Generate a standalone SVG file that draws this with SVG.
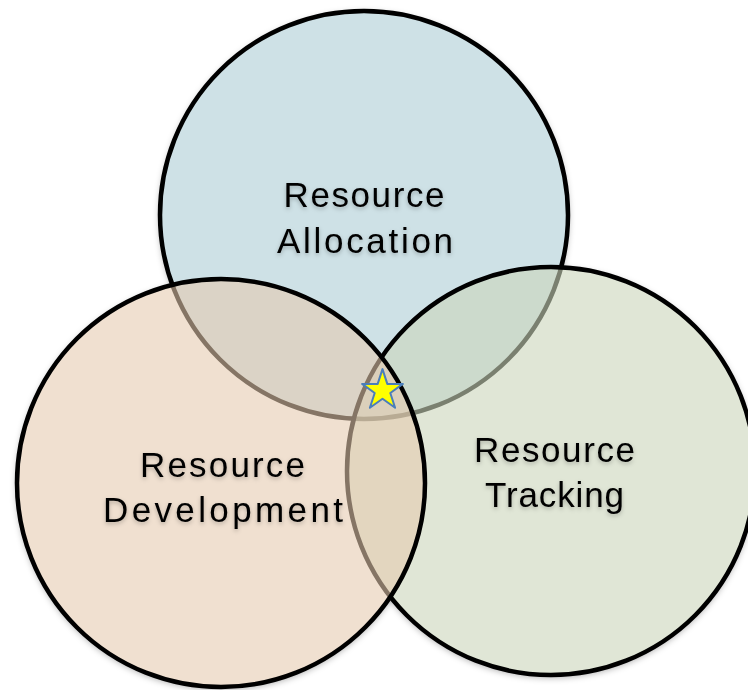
<svg xmlns="http://www.w3.org/2000/svg" width="748" height="690" viewBox="0 0 748 690">
  <defs>
    <filter id="blur" x="-10%" y="-10%" width="120%" height="125%">
      <feGaussianBlur stdDeviation="3"/>
    </filter>
    <filter id="tshadow" x="-10%" y="-20%" width="120%" height="150%">
      <feDropShadow dx="0" dy="2" stdDeviation="2" flood-color="#000" flood-opacity="0.25"/>
    </filter>
    <mask id="outside">
      <rect width="748" height="690" fill="#fff"/>
      <circle cx="364" cy="215" r="204" fill="#000"/>
      <circle cx="551" cy="471" r="204" fill="#000"/>
      <circle cx="221" cy="483" r="204" fill="#000"/>
    </mask>
  </defs>
  <style>
    .ring { stroke: #000; stroke-width: 4.5; }
    .shade { fill: #000; fill-opacity: 0.3; }
    .label { font-family: "Liberation Sans", Arial, sans-serif; font-size: 35px; fill: #000; text-anchor: middle; }
  </style>
  <rect width="748" height="690" fill="#fff"/>
  <g id="shadows" mask="url(#outside)">
    <g filter="url(#blur)">
      <circle class="shade" cx="364" cy="217" r="205"/>
      <circle class="shade" cx="551" cy="473" r="205"/>
      <circle class="shade" cx="221" cy="485" r="205"/>
    </g>
  </g>
  <g id="node-allocation">
    <circle class="ring" cx="364" cy="215" r="204" fill="#CEE1E6"/>
    <g filter="url(#tshadow)">
      <text class="label" x="364" y="207" textLength="161" lengthAdjust="spacing">Resource</text>
      <text class="label" x="365" y="253" textLength="176" lengthAdjust="spacing">Allocation</text>
    </g>
  </g>
  <g id="node-tracking">
    <circle class="ring" cx="551" cy="471" r="204" fill="#CBD5BB" fill-opacity="0.6"/>
    <g filter="url(#tshadow)">
      <text class="label" x="554.5" y="462" textLength="161" lengthAdjust="spacing">Resource</text>
      <text class="label" x="554.5" y="507" textLength="139" lengthAdjust="spacing">Tracking</text>
    </g>
  </g>
  <g id="node-development">
    <circle class="ring" cx="221" cy="483" r="204" fill="#E5CAAE" fill-opacity="0.58"/>
    <g filter="url(#tshadow)">
      <text class="label" x="222.5" y="477" textLength="165" lengthAdjust="spacing">Resource</text>
      <text class="label" x="223" y="522" textLength="240" lengthAdjust="spacing">Development</text>
    </g>
  </g>
  <g id="node-star">
    <polygon points="382.5,369.1 387.3,383.9 402.9,383.9 390.3,393 395.1,407.8 382.5,398.7 369.9,407.8 374.7,393 362.1,383.9 377.7,383.9" fill="#FFFF00" stroke="#4A7EBB" stroke-width="2" stroke-linejoin="round"/>
  </g>
  <g id="connectors"/>
</svg>
